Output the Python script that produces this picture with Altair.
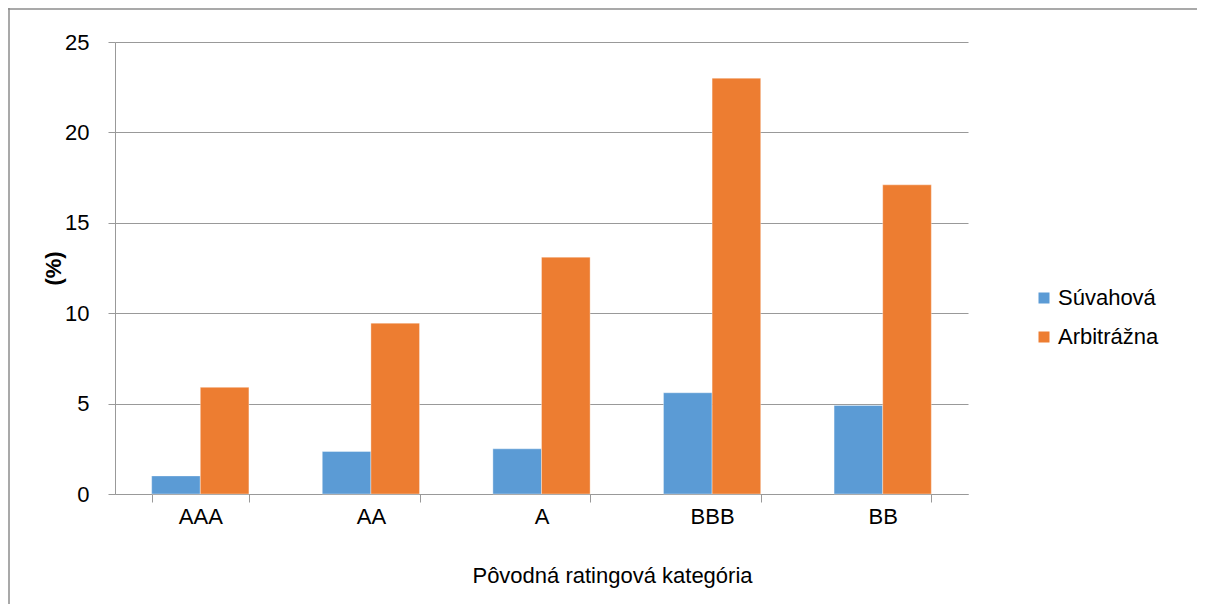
import altair as alt
import pandas as pd

categories = ["AAA", "AA", "A", "BBB", "BB"]
series = ["Súvahová", "Arbitrážna"]
suvahova = [1.0, 2.35, 2.5, 5.6, 4.9]
arbitrazna = [5.9, 9.45, 13.1, 23.0, 17.1]
colors = ["#5B9BD5", "#ED7D31"]

rows = []
for c, a, b in zip(categories, suvahova, arbitrazna):
    rows.append({"kat": c, "typ": series[0], "val": a})
    rows.append({"kat": c, "typ": series[1], "val": b})
df = pd.DataFrame(rows)

W, H = 853, 452
PL, PT, PR, PB = 107, 34, 229, 110
FONT = "Liberation Sans"
FS = 22

bars = alt.Chart(df).mark_bar(stroke="white", strokeWidth=0.6, strokeOpacity=0.6).encode(
    x=alt.X("kat:N", sort=categories,
            scale=alt.Scale(paddingInner=0.43, paddingOuter=0.215),
            axis=alt.Axis(title="Pôvodná ratingová kategória", labelAngle=0, grid=False,
                          tickBand="extent", tickSize=8, tickColor="#999999",
                          domainColor="#999999", labelFont=FONT, labelFontSize=FS,
                          labelColor="black", labelPadding=4,
                          titleFont=FONT, titleFontSize=FS, titleFontWeight="normal",
                          titleColor="black", titleX=497, titleY=81,
                          titleBaseline="middle")),
    xOffset=alt.XOffset("typ:N", sort=series, scale=alt.Scale(paddingInner=0, paddingOuter=0)),
    y=alt.Y("val:Q", scale=alt.Scale(domain=[0, 25], nice=False),
            axis=alt.Axis(title="(%)", values=[0, 5, 10, 15, 20, 25], tickSize=7,
                          tickColor="#999999", domainColor="#999999",
                          gridColor="#999999", gridWidth=1,
                          labelFont=FONT, labelFontSize=FS, labelColor="black",
                          labelPadding=19, titleFont=FONT, titleFontSize=FS,
                          titleFontWeight="bold", titleColor="black",
                          titleX=-62, titleBaseline="middle")),
    color=alt.Color("typ:N", sort=series,
                    scale=alt.Scale(domain=series, range=colors),
                    legend=alt.Legend(title=None, orient="none", legendX=918, legendY=245,
                                      symbolType="square", symbolSize=121,
                                      symbolStrokeWidth=0, labelFont=FONT,
                                      labelFontSize=FS, labelColor="black",
                                      rowPadding=17, labelOffset=3)),
)

edge = pd.DataFrame({"d": [0]})
top_line = alt.Chart(edge).mark_rule(stroke="#8c8c8c", strokeWidth=1.5).encode(
    x=alt.value(-PL), x2=alt.value(W + PR), y=alt.value(-PT + 1),
)
left_line = alt.Chart(edge).mark_rule(stroke="#8c8c8c", strokeWidth=1.5).encode(
    x=alt.value(-PL + 1), y=alt.value(-PT), y2=alt.value(H + PB),
)

chart = alt.layer(top_line, left_line, bars).properties(
    width=W, height=H,
    autosize=alt.AutoSizeParams(type="none"),
    padding={"left": PL, "top": PT, "right": PR, "bottom": PB},
).configure_view(stroke=None)

chart.save("out.html", embed_options={"renderer": "svg", "actions": False})
